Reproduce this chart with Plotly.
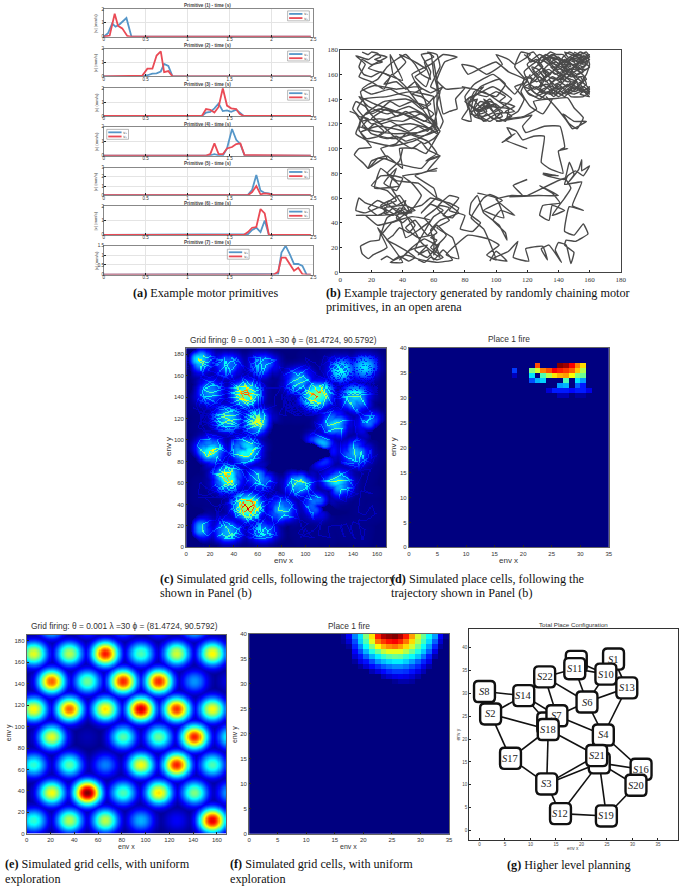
import numpy as np
import plotly.graph_objects as go

W, H = 685, 891

# ---------- Panel (a): motor primitives ----------
P1_T = [0, .05, .1, .14, .19, .27, .33, 2.47]
P1_VX = [0, .25, .95, .72, .9, 1.35, 0, 0]
P1_RT = [0, .07, .13, .17, .22, .28, .32, 2.47]
P1_VY = [0, .08, 1.65, .78, .6, .05, 0, 0]
P2_T = [0, .46, .52, .58, .63, .68, .72, .77, .82, 2.47]
P2_VX = [0, 0, .08, .2, .22, .35, .9, .75, 0, 0]
P2_VY = [0, .05, .55, .55, 1.5, 1.8, .3, .38, 0, 0]
P3_T = [0, 1.17, 1.22, 1.27, 1.32, 1.37, 1.42, 1.47, 1.52, 1.58, 1.62, 1.67, 2.47]
P3_VX = [0, 0, .25, .3, .55, .9, .35, .4, .3, .45, .25, 0, 0]
P3_VY = [0, 0, .5, .45, .25, .65, 2.0, .75, .55, .5, .15, 0, 0]
P4_T = [0, 1.22, 1.27, 1.32, 1.37, 1.42, 1.47, 1.53, 1.58, 1.63, 1.68, 2.47]
P4_VX = [0, 0, .02, .1, .02, 0, .5, 1.85, 1.1, .8, 0, 0]
P4_VY = [0, 0, .1, .85, .1, .1, .5, .6, .8, .85, .03, 0]
P5_T = [0, 1.67, 1.72, 1.77, 1.82, 1.87, 1.92, 1.97, 2.02, 2.07, 2.47]
P5_VX = [0, 0, .05, .6, 2.2, .5, .25, .2, .05, 0, 0]
P5_VY = [0, 0, 0, .35, 1.0, .1, .2, .15, .03, 0, 0]
P6_T = [0, 1.67, 1.72, 1.77, 1.82, 1.87, 1.92, 1.97, 2.47]
P6_VX = [0, 0, .05, .35, .5, .2, 1.0, 0, 0]
P6_VY = [0, 0, .2, .5, .55, 1.8, 1.5, 0, 0]
P7_T = [0, 2.03, 2.08, 2.12, 2.17, 2.22, 2.27, 2.32, 2.37, 2.42, 2.47]
P7_VX = [0, 0, .03, 1.15, 1.5, 1.05, .55, .55, .45, 0, 0]
P7_VY = [0, 0, .15, .88, .88, .55, .2, .35, .02, 0, 0]
PRIM_YMAX = [2, 2, 2, 2, 3, 2, 1.5]
PRIM_YTICKS = [[0, 1, 2], [0, 1, 2], [0, 1, 2], [0, 1, 2], [0, 1, 2, 3], [0, 1, 2], [0, .5, 1, 1.5]]
TIME_TICKS = [0, .5, 1, 1.5, 2, 2.5]

# ---------- Panel (b): trajectory, read by eye, region by region ----------
TRAJ_TOP_LEFT = [(6,130),(10,128),(13,122),(12,115),(17,108),(25,110),(34,118),(45,120),(58,116),(62,112),(55,118),(40,128),(25,132),
 (14,126),(12,118),(22,114),(35,112),(50,113),(62,118),(50,124),(36,130),(22,136),(12,142),(18,134),(30,128),(44,134),(56,126),(62,120),
 (48,112),(34,108),(20,112),(14,122),(25,124),(40,122),(52,128),(61,116),(47,106),(33,102),(18,106),(10,112),(16,128),(28,138),(42,140),
 (55,135),(60,142),(45,146),(30,142),(15,140),(11,132),(20,120),(33,125),(48,130),(60,122),(63,115),(52,110),(38,115),(24,118),(13,113),
 (20,101),(12,100),(9,95),(15,88),(18,84),(24,92),(30,92),(26,100),(36,104),(42,112),(56,106),(62,96),(55,90),(64,94),(56,99),(52,105),
 (46,100),(38,106),(30,115),(18,130),(13,146),(22,151),(36,148),(50,150),(58,145),(66,150),(60,140),(62,118),(55,128),(42,150),(33,160),
 (28,148),(20,154),(12,158),(16,168),(10,175),(18,172),(23,176),(30,174),(24,170),(18,165),(30,160),(40,155),(36,166),(32,176),(34,160),
 (42,170),(38,176),(45,172),(55,164),(48,158),(55,150),(58,162),(52,176),(58,177),(60,160),(62,150),(62,130),(60,118),(63,112),(58,125),
 (54,140),(46,160),(58,168),(66,176),(75,174),(67,170),(62,155),(68,148),(80,149),(74,140),(75,132),(70,130),(66,128),(64,140),(60,170)]
TRAJ_TL_WIGGLE = [(14,178),(18,176),(20,178),(24,177),(26,174),(22,172),(27,170),(20,168),(14,172),(12,166),(15,160),(20,158),(26,162),(32,158),
 (28,152),(36,154),(42,148),(48,154),(52,148),(46,144),(52,142),(58,136),(52,132),(46,138),(38,134),(32,138),(26,132),(20,128),(16,134),
 (10,138),(8,132),(12,126),(18,124),(14,118),(18,116),(22,120),(28,114),(24,110),(30,108),(36,110),(42,106),(48,108),(54,104),(60,108),
 (64,114),(60,120),(56,114),(50,118),(44,114),(38,118),(32,122),(26,120),(20,124),(24,128),(30,132),(36,126),(42,130),(48,126),(54,122),
 (60,128),(56,132),(50,136),(44,142),(38,144),(32,148),(26,146),(20,144),(14,148),(18,152),(24,156),(30,166),(36,172),(42,176),(48,168),
 (52,160),(58,156),(54,170),(60,174),(56,178),(62,176),(64,166),(58,150),(64,146),(62,136),(66,122),(64,116)]
TRAJ_TOP_MID = [(78,150),(86,148),(100,142),(106,152),(98,160),(86,152),(80,142),(82,132),(78,124),(84,122),(82,140),(92,146),(104,136),
 (112,130),(100,128),(92,122),(88,132),(94,138),(100,126),(106,122),(108,132),(96,134),(84,130),(86,142),(98,150),(110,140),(100,130),
 (92,126),(84,128),(90,138),(104,130),(96,122),(88,128),(92,134),(100,136),(90,130),(83,136),(90,150),(102,156),(112,144),(118,156),
 (108,162),(100,170),(92,166),(82,160),(78,168),(86,166),(94,160),(104,168),(100,176),(108,172),(112,168),(122,176),(116,178),(112,166),
 (120,154),(112,150),(118,140),(114,130),(106,124),(118,126),(126,132),(124,138),(136,140),(130,128),(122,134),(116,146),(122,160)]
TRAJ_TM_WIGGLE = [(84,138),(88,140),(86,134),(90,128),(94,130),(92,136),(96,140),(100,134),(104,126),(98,124),(94,128),(90,124),(86,126),(82,134),
 (86,146),(92,150),(88,144),(94,142),(100,146),(106,142),(102,138),(108,136),(112,134),(106,130),(110,126),(102,122),(96,126),(88,136),
 (84,142),(80,138),(84,134),(88,130),(92,132),(96,136),(92,140),(98,130),(102,134),(96,138),(90,134),(86,130),(90,124),(94,122)]
TRAJ_TOP_RIGHT = [(118,176),(125,170),(132,176),(140,168),(134,160),(128,168),(136,176),(145,170),(152,176),(160,172),(154,168),(160,176),
 (150,170),(156,162),(148,158),(142,168),(150,176),(156,170),(160,166),(152,160),(146,166),(140,174),(132,166),(126,158),(120,168),(128,176),
 (136,170),(144,162),(150,166),(158,174),(148,172),(142,160),(134,152),(128,162),(122,152),(130,146),(138,156),(146,150),(152,156),(146,146),
 (140,152),(134,144),(126,150),(120,146),(128,140),(136,148),(144,142),(150,150),(158,146),(160,150),(154,144),(160,142),(152,152),(158,156),
 (152,164),(144,172),(138,164),(130,156),(124,164),(132,172),(140,162),(148,154),(142,146),(134,156),(138,148),(146,158),(154,172),(158,168),
 (150,162),(144,156),(136,162),(128,154),(134,148),(140,142),(148,148),(156,150),(160,146),(156,142),(148,142),(142,150),(136,144),(128,146),
 (132,160),(126,170),(118,162),(124,146),(132,140),(146,141),(150,133),(156,125),(152,116),(147,120),(143,128),(150,122),(158,122),(149,116),
 (145,123),(138,134),(132,142)]
TRAJ_TR_WIGGLE = [(150,178),(154,176),(158,178),(160,174),(156,172),(152,174),(148,176),(144,178),(146,174),(150,172),(154,170),(158,170),
 (156,166),(152,168),(148,168),(144,170),(140,172),(136,174),(134,170),(138,168),(142,166),(146,164),(150,164),(154,162),(150,158),(146,160),
 (142,162),(138,160),(134,164),(130,162),(134,158),(138,156),(142,156),(146,154),(150,154),(154,158),(156,154),(152,150),(148,152),(144,150),
 (140,148),(136,150),(132,152),(128,150),(130,156),(126,154),(122,158),(126,162),(130,166),(126,172),(122,170),(120,176),(124,178),(128,172),
 (132,170),(136,166),(140,164),(144,166),(148,162),(152,158),(156,158),(158,152),(154,148),(150,146),(146,148),(142,144),(138,146),(134,150),
 (130,148),(126,144),(122,148),(118,150),(124,154),(128,158),(132,154),(136,158),(140,156),(144,158),(148,156),(152,154),(148,150),(144,146),
 (150,144),(154,146),(158,148),(160,144),(156,146),(152,148),(158,160),(160,168),(158,176),(154,178),(150,174),(146,170),(142,172),(138,172),
 (134,174),(130,172),(134,168),(138,170),(142,168),(146,168),(150,168),(154,164),(158,164)]
TRAJ_TR_DENSE = [(156,176),(158,172),(154,172),(156,168),(152,170),(148,174),(150,170),(146,172),(148,166),(144,168),(146,162),(142,164),(144,160),
 (140,158),(142,154),(138,152),(140,150),(136,148),(134,146),(138,144),(142,148),(146,152),(150,148),(154,152),(156,148),(158,144),(160,148),
 (157,152),(153,156),(149,160),(145,164),(141,170),(137,176),(133,172),(129,174),(127,168),(131,164),(135,160),(131,158),(127,164),(123,166),
 (125,160),(129,152),(125,148),(121,150),(123,156),(119,158),(117,152),(121,144),(125,142),(129,144),(133,146),(137,142),(141,146),(145,144),
 (149,146),(153,150),(151,156),(147,162),(143,158),(139,162),(135,166),(139,166),(143,174),(147,178),(151,176),(155,174),(159,170),(155,164),
 (151,166),(147,170),(143,176),(139,176),(135,178),(131,174)]
TRAJ_RIGHT = [(100,122),(117,125),(123,127),(117,118),(119,113),(131,118),(141,118),(144,101),(141,99),(146,100),(140,98),(143,80),(134,84),
 (129,89),(131,110),(124,110),(117,107),(113,114),(107,117),(110,110),(104,105),(112,112),(106,107),(120,100)]
TRAJ_RIGHT2 = [(130,80),(140,78),(130,79),(144,75),(147,89),(150,79),(146,72),(153,83),(155,91),(155,82),(160,86),(156,78),(151,82),(146,78),
 (144,71),(155,73),(149,54),(156,50),(147,53),(144,33),(150,30),(156,39),(159,31),(151,25),(145,26),(144,22),(150,16),(148,7),(145,22),(140,24),
 (138,18),(142,8),(134,22),(129,19),(133,10),(130,21),(122,20),(119,19),(121,9),(111,12),(114,25),(108,17),(98,11),(107,9),(100,17),(96,9)]
TRAJ_MID_LOW = [(120,75),(111,70),(117,62),(109,61),(127,62),(140,62),(128,70),(136,64),(141,56),(130,54),(128,46),(134,42),(136,54),(144,50),
 (136,46),(144,60),(148,68),(144,76),(120,62),(110,62),(100,59),(112,46),(103,50),(98,42),(106,32),(107,26),(102,38),(92,48),(88,62),
 (84,56),(83,47),(90,40),(85,33),(77,35),(80,46),(70,50),(76,60),(70,62),(62,52),(70,42),(62,36),(72,28),(76,11),(68,14),(82,30),(95,27),
 (102,22),(94,14),(100,10),(92,35),(84,44),(92,60),(96,63),(104,58),(92,50),(105,44),(100,60),(88,64)]
TRAJ_BOTTOM = [(26,33),(25,26),(19,25),(13,21),(14,15),(18,11),(21,14),(30,20),(24,36),(40,8),(32,8),(42,14),(52,10),(62,8),(72,10),(66,18),
 (60,10),(56,18),(50,14),(56,22),(45,18),(38,10),(46,20),(54,27),(62,22),(68,30),(62,38),(56,30),(48,42),(42,36),(50,28),(60,30),(60,14),
 (64,24),(56,12),(48,18),(60,45),(66,50),(58,55),(52,48),(62,60),(76,48),(64,42),(58,34),(64,12),(52,24),(40,50),(30,44),(26,30),(33,40),
 (46,45),(58,42),(50,34),(42,28),(38,44),(28,52),(42,54),(48,50),(38,48),(30,56),(38,62),(44,50),(36,42),(24,38),(16,46),(10,46),(24,46),
 (36,47),(46,48),(38,52),(34,46),(28,48),(30,54),(24,58),(18,52),(24,46),(30,50),(16,56),(12,60),(10,50),(16,48),(24,52),(36,58),(30,66),
 (20,70),(26,78),(34,78),(40,76),(36,66),(28,72),(36,84),(32,70),(38,58),(44,48),(52,62),(46,72),(40,78),(52,80),(62,84),(48,78),(60,68),
 (62,60),(50,72),(36,74),(26,84),(22,68),(38,70),(30,80),(38,90),(40,100)]
TRAJ_BOTTOM_WIGGLE = [(50,10),(54,8),(58,12),(62,10),(66,12),(62,16),(58,20),(62,26),(58,28),(62,32),(58,38),(54,44),(60,50),(64,54),(70,52),
 (66,46),(72,44),(76,52),(70,56),(64,58),(58,60),(52,54),(46,52),(42,46),(38,50),(34,52),(30,48),(26,54),(32,58),(36,54),(42,58),(40,52),
 (36,44),(40,40),(44,44),(48,38),(44,32),(38,36),(34,30),(30,26),(36,22),(44,16),(48,12),(44,9),(38,13),(34,10),(30,13),(26,10)]
TRAJ_LINKS = [(63,112),(55,96),(48,100),(38,100),(40,84),(30,94),(20,90),(18,84),(28,92),(36,88),(52,84),(58,92),(64,94),(56,82),(62,82)]

# ---------- Panel (c) and (e): bump peaks ----------
E_PEAK_X = [6,36,66,96,126,156, 21,51,81,111,141,171, 6,36,66,96,126,156, 21,51,81,111,141,171, 6,36,66,96,126,156,
            21,51,81,111,141,171, 6,36,66,96,126,156, 21,51,81,111,141]
E_PEAK_Y = [168]*6 + [142]*6 + [116]*6 + [90]*6 + [64]*6 + [38]*6 + [12]*6 + [194]*5
E_PEAK_A = [.6,.55,.86,.45,.58,.63, .78,.48,.84,.84,.27,.1, .63,.78,.65,.92,.83,.62, .6,.05,.46,.48,.85,.4,
            .42,.46,.25,.62,.85,.45, .62,1.0,.45,.65,.5,.3, .42,.55,.56,.3,.12,.9, .45,.25,.3,.25,.45]
C_PEAK_X = [50,110,35,142,125,20,50,111,142,35,52,20,60,127,95,110,80,95,130,65,35,10,35,65,10,150,155,62]
C_PEAK_Y = [143,142,120,138,115,90,90,90,88,65,38,145,117,60,60,40,35,155,165,170,170,175,15,15,18,168,115,65]
C_PEAK_A = [.8,.82,.55,.55,.55,.66,.72,1.0,.5,.72,.92,.45,.6,.6,.55,.45,.5,.5,.4,.4,.4,.6,.5,.4,.5,.35,.4,.45]

# ---------- Panel (d): place cell, cells by y index then x index ----------
D_CELLS = {
 36: {22:.8, 26:1.0, 27:.97, 28:.88, 29:.75, 30:.66},
 35: {18:.18, 21:.5, 22:.58, 23:.75, 24:.8, 25:.88, 26:.85, 27:.82, 28:.78, 29:.68, 30:.55},
 34: {18:.06, 21:.35, 23:.45, 24:.55, 25:.65, 26:.7, 27:.72, 28:.62, 29:.5, 30:.48},
 33: {21:.2, 22:.3, 23:.33, 27:.45, 29:.35, 30:.28},
 32: {26:.28, 27:.3, 29:.22, 30:.15},
 31: {24:.08, 25:.15, 26:.15, 27:.15, 28:.13, 29:.15, 30:.15, 31:.1},
 30: {26:.05, 27:.05, 29:.03, 30:.03},
}

# ---------- Panel (f): place cell, rows top to bottom, x index starts at 15 ----------
F_X0 = 15
F_ROW39 = [0,.03,.12,.25,.35,.5,.65,.85,.95,.98,1.0,.95,.85,.72,.58,.48,.38,.28,.12,.02]
F_ROW38 = [0,.02,.08,.2,.33,.45,.6,.76,.82,.86,.88,.84,.76,.66,.55,.44,.34,.22,.08,0]
F_ROW37 = [0,0,.03,.16,.26,.38,.5,.62,.7,.74,.76,.72,.66,.58,.48,.38,.28,.16,.03,0]
F_ROW36 = [0,0,0,.12,.2,.3,.4,.48,.56,.6,.6,.6,.55,.48,.4,.32,.22,.1,0,0]
F_ROW35 = [0,0,0,.08,.14,.22,.3,.36,.42,.46,.48,.47,.42,.38,.32,.24,.15,.04,0,0]
F_ROW34 = [0,0,0,.03,.1,.14,.2,.27,.31,.34,.36,.36,.33,.28,.22,.16,.1,0,0,0]
F_ROW33 = [0,0,0,0,.03,.08,.13,.17,.21,.24,.26,.26,.24,.2,.16,.1,.04,0,0,0]
F_ROW32 = [0,0,0,0,0,0,.05,.09,.13,.16,.18,.18,.17,.14,.1,.05,0,0,0,0]
F_ROW31 = [0,0,0,0,0,0,0,0,.05,.08,.1,.11,.1,.08,.04,0,0,0,0,0]
F_ROW30 = [0,0,0,0,0,0,0,0,0,0,.02,.04,.04,.03,0,0,0,0,0,0]
F_ROWS = [F_ROW39, F_ROW38, F_ROW37, F_ROW36, F_ROW35, F_ROW34, F_ROW33, F_ROW32, F_ROW31, F_ROW30]

# ---------- Panel (g): place graph ----------
NODE_NAMES = ["", "", "", "S7", "S1", "S10", "S11", "S22", "S13", "S6", "S14", "S8", "S2", "S18", "S4", "S17", "S21", "S16", "S20", "S3", "S12", "S19"]
NODE_KEYS = ["H11", "H18", "S15", "S7", "S1", "S10", "S11", "S22", "S13", "S6", "S14", "S8", "S2", "S18", "S4", "S17", "S21", "S16", "S20", "S3", "S12", "S19"]
NODE_X = [19, 13.4, 23.5, 15.2, 26.3, 24.8, 18.7, 12.8, 28.9, 21.1, 8.7, 1, 2.2, 13.5, 24.3, 6.1, 23, 31.7, 30.7, 13.2, 15.9, 24.9]
NODE_Y = [37, 23.5, 14.8, 25.1, 37.5, 34.2, 35.4, 33.6, 31.2, 28.1, 29.5, 30.4, 25.5, 22.1, 20.9, 15.8, 16.4, 13.4, 9.9, 10.2, 3.7, 3.2]
EDGES = [("S8","S14"),("S8","S2"),("S2","S14"),("S14","S22"),("S14","S7"),("S14","H18"),("S22","S7"),("S22","S11"),("S22","S6"),("S11","S6"),
 ("S11","S10"),("H11","S10"),("S1","S10"),("S1","S13"),("S10","S6"),("S6","S13"),("S6","S4"),("S6","S7"),("S13","S4"),("S7","S4"),("S2","S18"),
 ("S2","S17"),("S18","S17"),("S18","S3"),("S18","S21"),("S17","S3"),("S3","S21"),("S3","S15"),("S3","S12"),("S12","S15"),("S12","S19"),
 ("S15","S19"),("S15","S20"),("S15","S16"),("S4","S16"),("S19","S20"),("S4","S21")]

# ---------- Layout in page pixels ----------
JET = [[0,"rgb(0,0,128)"],[.125,"rgb(0,0,255)"],[.375,"rgb(0,255,255)"],[.625,"rgb(255,255,0)"],[.875,"rgb(255,0,0)"],[1,"rgb(128,0,0)"]]
PRIM_BOXES = [(5,33),(45,73),(85,113),(124,153),(165,193),(204,233),(244,273)]
LEG_BOXES = [(289,7),(289,47.5),(289,87),(106,126.5),(289,166.5),(289,206.5),(228,247.5)]
TITLE_Y = [2,41.8,81.3,121.8,161,201,241]
BLUE, RED = "#5596c8", "#ea4a55"
fx = lambda p: p / W
fy = lambda p: 1 - p / H

layout = dict(width=W, height=H, autosize=False, margin=dict(l=0, r=0, t=0, b=0), paper_bgcolor="white", plot_bgcolor="white",
              showlegend=False, annotations=[], shapes=[])

def axes(n, l, r, t, b, xr, yr, xt, yt, size=6, color="#333", line="#555", grid=False, lw=1, tickc="#222", standoff=0):
    s = "" if n == 1 else str(n)
    common = dict(showline=True, mirror=True, linecolor=line, linewidth=lw, ticks="inside", ticklen=2, tickwidth=.6, tickcolor=tickc,
                  tickfont=dict(size=size, family="Liberation Sans", color=color), zeroline=False, showgrid=grid, gridcolor="#e4e4e4", gridwidth=.6,
                  ticklabelstandoff=standoff)
    layout["xaxis"+s] = dict(domain=[fx(l), fx(r)], range=xr, tickvals=xt, ticktext=[f"{v:g}" for v in xt], anchor="y"+s, **common)
    layout["yaxis"+s] = dict(domain=[fy(b), fy(t)], range=yr, tickvals=yt, ticktext=[f"{v:g}" for v in yt], anchor="x"+s, **common)

def text(x, y, s, size=8, family="Liberation Sans", color="#333", anchor="center", angle=0):
    layout["annotations"].append(dict(x=fx(x), y=fy(y), xref="paper", yref="paper", text=s, showarrow=False, xanchor=anchor, yanchor="middle",
                                      font=dict(size=size, family=family, color=color), textangle=angle))

traces = []
PRIMS = [(P1_T,P1_VX,P1_RT,P1_VY),(P2_T,P2_VX,P2_T,P2_VY),(P3_T,P3_VX,P3_T,P3_VY),(P4_T,P4_VX,P4_T,P4_VY),(P5_T,P5_VX,P5_T,P5_VY),(P6_T,P6_VX,P6_T,P6_VY),(P7_T,P7_VX,P7_T,P7_VY)]
for i, (tb, vx, tr, vy) in enumerate(PRIMS):
    n = i + 1
    t, b = PRIM_BOXES[i]
    axes(n, 103, 315, t, b, [0, 2.5], [0, PRIM_YMAX[i]], TIME_TICKS, PRIM_YTICKS[i], size=4.5, line="#888", grid=True, lw=1, standoff=-2)
    ax = dict(xaxis="x" + ("" if n == 1 else str(n)), yaxis="y" + ("" if n == 1 else str(n)))
    traces.append(go.Scatter(x=tb, y=vx, mode="lines", line=dict(color=BLUE, width=1.8), cliponaxis=False, **ax))
    traces.append(go.Scatter(x=tr, y=vy, mode="lines", line=dict(color=RED, width=1.8), cliponaxis=False, **ax))
    text(208, TITLE_Y[i], f"<b>Primitive ({n}) - time (s)</b>", size=4.6, color="#444")
    text(95, (t+b)/2, "|v| (mm/s)", size=4.2, color="#444", angle=-90)
    lx, ly = LEG_BOXES[i]
    layout["shapes"].append(dict(type="rect", xref="paper", yref="paper", x0=fx(lx), x1=fx(lx+22), y0=fy(ly), y1=fy(ly+10),
                                 fillcolor="white", line=dict(color="#999", width=.7)))
    for k, col in enumerate([BLUE, RED]):
        yy = ly + 3 + k * 4.2
        layout["shapes"].append(dict(type="line", xref="paper", yref="paper", x0=fx(lx+1.5), x1=fx(lx+15), y0=fy(yy), y1=fy(yy), line=dict(color=col, width=1.8)))
        text(lx + 18.5, yy, ["vₓ", "vᵧ"][k], size=4, color="#444", family="DejaVu Sans")

# trajectory
segs = [TRAJ_TOP_LEFT, TRAJ_TL_WIGGLE, TRAJ_TOP_MID, TRAJ_TM_WIGGLE, TRAJ_TOP_RIGHT, TRAJ_TR_WIGGLE, TRAJ_TR_DENSE, TRAJ_RIGHT, TRAJ_RIGHT2, TRAJ_MID_LOW, TRAJ_BOTTOM, TRAJ_BOTTOM_WIGGLE, TRAJ_LINKS]
axes(8, 342.3, 626, 46, 270.7, [0, 180], [0, 180], list(range(0,181,20)), list(range(0,181,20)), size=7, color="#333", line="#444", lw=1)
layout["xaxis8"]["tickfont"]["family"] = "Liberation Serif"
layout["yaxis8"]["tickfont"]["family"] = "Liberation Serif"
for s in segs:
    traces.append(go.Scatter(x=[p[0] for p in s], y=[p[1] for p in s], mode="lines",
                             line=dict(color="#4a4a4a", width=1.4, shape="spline", smoothing=.35), xaxis="x8", yaxis="y8"))

# field grids
gx = np.arange(.5, 168, 1.0)
gy = np.arange(.5, 186, 1.0)
GX, GY = np.meshgrid(gx, gy)

def field(px, py, pa, sigma):
    out = np.zeros_like(GX)
    for x0, y0, a in zip(px, py, pa):
        out = np.maximum(out, a * np.exp(-((GX-x0)**2 + (GY-y0)**2) / (2 * sigma**2)))
    return out

# trajectory coverage for panel (c)
line_mask = np.zeros_like(GX, dtype=bool)
for s in segs:
    for (x0, y0), (x1, y1) in zip(s[:-1], s[1:]):
        m = int(max(abs(x1-x0), abs(y1-y0))) + 2
        ii = np.clip(np.linspace(y0, y1, m).astype(int), 0, len(gy)-1)
        jj = np.clip(np.linspace(x0, x1, m).astype(int), 0, len(gx)-1)
        line_mask[ii, jj] = True
near = np.zeros_like(GX)
for dy in range(-9, 10):
    for dx in range(-9, 10):
        if dx*dx + dy*dy <= 81:
            near = np.maximum(near, np.roll(np.roll(line_mask, dy, 0), dx, 1) * (1 - (dx*dx+dy*dy)/100))
z_c = field(C_PEAK_X, C_PEAK_Y, C_PEAK_A, 8.5) * (.62 * near + .38 * line_mask)
z_c = np.maximum(z_c, .05 * line_mask + .012 * near)

GRID_XT = list(range(0, 161, 20))
GRID_YT = list(range(0, 181, 20))
axes(9, 186.3, 388.7, 347.3, 548.3, [0, 167.7], [0, 185.5], GRID_XT, GRID_YT, size=6, line="#666")
traces.append(go.Heatmap(x=gx, y=gy, z=z_c, colorscale=JET, zmin=0, zmax=1, showscale=False, xaxis="x9", yaxis="y9"))
text(285, 339, "Grid firing: θ = 0.001 λ =30 ϕ = (81.4724, 90.5792)", size=8.4)
text(285, 561.5, "env x", size=8); text(169, 447, "env y", size=8, angle=-90)

# (d)
PLACE_XT = list(range(0, 36, 5))
PLACE_YT = list(range(0, 41, 5))
z_d = np.zeros((40, 35))
for r, cells in D_CELLS.items():
    for c, v in cells.items():
        z_d[r, c] = v
axes(10, 411.7, 614, 346.7, 548.3, [0, 35], [0, 40], PLACE_XT, PLACE_YT, size=6, line="#666")
traces.append(go.Heatmap(x=np.arange(35)+.5, y=np.arange(40)+.5, z=z_d, colorscale=JET, zmin=0, zmax=1, showscale=False, xaxis="x10", yaxis="y10"))
text(512.7, 338.5, "Place 1 fire", size=8.4)
text(512.7, 561.5, "env x", size=8); text(397, 447, "env y", size=8, angle=-90)

# (e)
z_e = field(E_PEAK_X, E_PEAK_Y, E_PEAK_A, 8.0)
axes(11, 25, 226.7, 636.7, 837.3, [0, 167.7], [0, 185.5], GRID_XT, GRID_YT, size=6, line="#666")
traces.append(go.Heatmap(x=gx, y=gy, z=z_e, colorscale=JET, zmin=0, zmax=1, showscale=False, xaxis="x11", yaxis="y11"))
text(124, 628, "Grid firing: θ = 0.001 λ =30 ϕ = (81.4724, 90.5792)", size=8.4)
text(125.7, 850.5, "env x", size=7); text(7, 735, "env y", size=7, angle=-90)

# (f)
z_f = np.zeros((40, 35))
for k, row in enumerate(F_ROWS):
    for j, v in enumerate(row):
        z_f[39-k, F_X0+j] = v
axes(12, 250, 452.3, 635.7, 837.3, [0, 35], [0, 40], PLACE_XT, PLACE_YT, size=6, line="#666")
traces.append(go.Heatmap(x=np.arange(35)+.5, y=np.arange(40)+.5, z=z_f, colorscale=JET, zmin=0, zmax=1, showscale=False, xaxis="x12", yaxis="y12"))
text(351, 628, "Place 1 fire", size=8.4)
text(351, 850.5, "env x", size=7); text(235.7, 736.7, "env y", size=7, angle=-90)

# (g)
pos = {k: (x, y) for k, x, y in zip(NODE_KEYS, NODE_X, NODE_Y)}
axes(13, 472.7, 684.3, 631, 843.3, [-2, 39], [-2, 44], PLACE_XT, list(range(0, 41, 5)), size=4.5, color="#444", line="#333")
ex, ey = [], []
for a, b in EDGES:
    ex += [pos[a][0], pos[b][0], None]
    ey += [pos[a][1], pos[b][1], None]
traces.append(go.Scatter(x=ex, y=ey, mode="lines", line=dict(color="#111", width=1.6), xaxis="x13", yaxis="y13"))
hw, hh, rx, ry = 2.05, 2.3, .85, .95
for k, name in zip(NODE_KEYS, NODE_NAMES):
    x, y = pos[k]
    path = (f"M {x-hw+rx} {y-hh} L {x+hw-rx} {y-hh} Q {x+hw} {y-hh} {x+hw} {y-hh+ry} L {x+hw} {y+hh-ry} Q {x+hw} {y+hh} {x+hw-rx} {y+hh} "
            f"L {x-hw+rx} {y+hh} Q {x-hw} {y+hh} {x-hw} {y+hh-ry} L {x-hw} {y-hh+ry} Q {x-hw} {y-hh} {x-hw+rx} {y-hh} Z")
    layout["shapes"].append(dict(type="path", path=path, xref="x13", yref="y13", fillcolor="white", line=dict(color="#111", width=2.4)))
    if name:
        layout["annotations"].append(dict(x=x, y=y, xref="x13", yref="y13", text=f"<i>S</i>{name[1:]}", showarrow=False,
                                          font=dict(size=10.5, family="Liberation Serif", color="#222")))
text(578.3, 625.7, "Total Place Configuration", size=6.2, color="#333")
text(578, 852, "env x", size=4.8, color="#444"); text(461.7, 736.7, "env y", size=4.8, color="#444", angle=-90)

# captions
SERIF = "Liberation Serif"
CAPTIONS = [
 (131, 292, "<b>(a)</b> Example motor primitives"),
 (326, 292, "<b>(b)</b> Example trajectory generated by randomly chaining motor"),
 (326, 306, "primitives, in an open arena"),
 (158, 580, "<b>(c)</b> Simulated grid cells, following the trajectory"),
 (158, 594, "shown in Panel (b)"),
 (392, 580, "<b>(d)</b> Simulated place cells, following the"),
 (392, 594, "trajectory shown in Panel (b)"),
 (1, 868, "<b>(e)</b> Simulated grid cells, with uniform"),
 (1, 883, "exploration"),
 (229, 868, "<b>(f)</b> Simulated grid cells, with uniform"),
 (229, 883, "exploration"),
 (509, 869, "<b>(g)</b> Higher level planning"),
]
for x, y, s in CAPTIONS:
    text(x, y, s, size=12.2, family=SERIF, color="#111", anchor="left")

fig = go.Figure(data=traces, layout=layout)
fig.write_html("out.html", config={"displayModeBar": False},
               post_script="document.body.style.margin='0';document.documentElement.style.overflow='hidden';")
